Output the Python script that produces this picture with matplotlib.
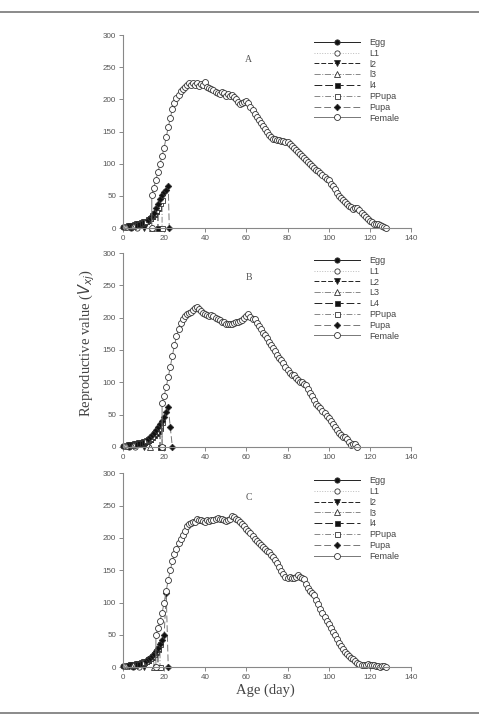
import numpy as np
import matplotlib.pyplot as plt
from matplotlib.lines import Line2D

# ---------------- data ----------------
# panel A
egg_a_x = [0, 1, 2, 3, 4, 4]
egg_a_y = [1.8, 2.0, 2.3, 2.7, 3.1, 0]
l1_a_x = [1, 2, 3, 4, 5, 6, 7, 7]
l1_a_y = [2.0, 2.4, 2.8, 3.3, 3.9, 4.6, 5.4, 0]
l2_a_x = [3, 4, 5, 6, 7, 8, 9, 10, 10]
l2_a_y = [2.9, 3.4, 4.0, 4.8, 5.7, 6.8, 8.1, 9.6, 0]
l3_a_x = [5, 6, 7, 8, 9, 10, 11, 12, 13, 14, 14]
l3_a_y = [3.8, 4.5, 5.4, 6.5, 7.8, 9.3, 11.1, 13.3, 15.8, 18.8, 0]
l4_a_x = [7, 8, 9, 10, 11, 12, 13, 14, 15, 16, 17, 17]
l4_a_y = [5.2, 6.2, 7.4, 8.9, 10.6, 12.7, 15.2, 18.1, 21.6, 25.8, 30.8, 0]
pp_a_x = [11, 12, 13, 14, 15, 16, 17, 18, 19, 19]
pp_a_y = [11.5, 13.7, 16.4, 19.6, 23.4, 27.9, 33.3, 38.5, 43, 0]
pupa_a_x = [12, 13, 14, 15, 16, 17, 18, 19, 20, 21, 22, 22.5]
pupa_a_y = [13, 15.5, 19, 24, 31, 38, 45, 51, 56, 59, 66, 0]
fem_a_x = [14] + list(range(14, 129))
fem_a_y = [0, 52, 63, 75, 87, 100, 112, 125, 141, 157, 171, 185, 195, 202, 207, 213,
           216, 219, 223, 225, 223, 226, 222, 225, 221, 224, 222, 227, 220, 218, 216,
           214, 212, 210, 208, 212, 210, 206, 208, 205, 207, 204, 200, 196, 193, 195,
           196, 197, 195, 188, 183, 178, 173, 168, 163, 158, 154, 149, 145, 142, 139,
           138, 137, 137, 136, 135, 134, 133, 130, 127, 124, 121, 118, 115, 112, 109,
           106, 103, 100, 97, 94, 91, 88, 85, 82, 80, 77, 74, 69, 65, 60, 55, 50, 46,
           43, 40, 37, 34, 32, 30, 31, 31, 28, 24, 20, 17, 14, 11, 9, 7, 6, 6, 5, 3,
           1, 0]

# panel B
egg_b_x = [0, 1, 2, 3, 3]
egg_b_y = [1.5, 1.8, 2.1, 2.5, 0]
l1_b_x = [1, 2, 3, 4, 5, 6, 6]
l1_b_y = [1.7, 2.0, 2.4, 2.8, 3.3, 3.9, 0]
l2_b_x = [3, 4, 5, 6, 7, 8, 9, 10, 10]
l2_b_y = [2.3, 2.7, 3.2, 3.8, 4.5, 5.3, 6.3, 7.5, 0]
l3_b_x = [5, 6, 7, 8, 9, 10, 11, 12, 13, 13]
l3_b_y = [3.2, 3.8, 4.5, 5.3, 6.3, 7.5, 8.9, 10.6, 12.6, 0]
l4_b_x = [7, 8, 9, 10, 11, 12, 13, 14, 15, 16, 17, 18, 18]
l4_b_y = [4.5, 5.3, 6.3, 7.5, 8.9, 10.6, 12.6, 15, 17.8, 21, 25, 29.5, 0]
pp_b_x = [11, 12, 13, 14, 15, 16, 17, 18, 19, 19]
pp_b_y = [10, 12, 14.5, 17.5, 21, 25, 29.5, 34, 39, 0]
pupa_b_x = [12, 13, 14, 15, 16, 17, 18, 19, 20, 21, 22, 23, 24]
pupa_b_y = [12.5, 15, 18, 21.5, 25.5, 30, 35, 40, 46, 54, 62, 30, 0]
fem_b_x = [19] + list(range(19, 115))
fem_b_y = [0, 68, 79, 93, 108, 124, 141, 157, 171, 183, 192, 198, 202, 205, 207, 209,
           212, 215, 216, 213, 210, 208, 206, 204, 203, 204, 202, 200, 198, 196, 194,
           193, 191, 190, 190, 191, 192, 193, 194, 195, 197, 199, 202, 206, 201, 198,
           198, 192, 187, 182, 177, 173, 168, 163, 158, 153, 148, 143, 137, 134, 130,
           124, 119, 115, 111, 112, 107, 103, 101, 100, 98, 96, 89, 83, 78, 72, 67, 63,
           60, 56, 52, 48, 44, 40, 35, 31, 26, 22, 18, 16, 15, 12, 7, 3, 5, 4, 0]

# panel C
egg_c_x = [0, 1, 2, 3, 4, 5, 5]
egg_c_y = [1.5, 1.8, 2.1, 2.5, 3.0, 3.5, 0]
l1_c_x = [1, 2, 3, 4, 5, 6, 7, 8, 8]
l1_c_y = [1.7, 2.0, 2.4, 2.8, 3.3, 3.9, 4.6, 5.4, 0]
l2_c_x = [3, 4, 5, 6, 7, 8, 9, 10, 10]
l2_c_y = [2.4, 2.8, 3.3, 3.9, 4.6, 5.5, 6.6, 7.9, 0]
l3_c_x = [5, 6, 7, 8, 9, 10, 11, 12, 13, 14, 15, 15]
l3_c_y = [3.3, 3.9, 4.6, 5.5, 6.6, 7.9, 9.5, 11.4, 13.7, 16.4, 19.7, 0]
l4_c_x = [7, 8, 9, 10, 11, 12, 13, 14, 15, 16, 17, 17]
l4_c_y = [4.6, 5.5, 6.6, 7.9, 9.5, 11.4, 13.7, 16.4, 19.7, 23.6, 28.3, 0]
pp_c_x = [10, 11, 12, 13, 14, 15, 16, 17, 18, 18]
pp_c_y = [8.5, 10.2, 12.2, 14.6, 17.5, 21, 25, 30, 35, 0]
pupa_c_x = [11, 12, 13, 14, 15, 16, 17, 18, 19, 20, 21, 22]
pupa_c_y = [10, 12, 14.5, 17, 21, 25, 30, 36, 42, 49, 115, 0]
fem_c_x = [16] + list(range(16, 129))
fem_c_y = [0, 50, 60, 72, 84, 100, 118, 135, 150, 164, 175, 183, 192, 199, 205, 211,
           218, 221, 223, 225, 225, 230, 228, 227, 226, 225, 227, 226, 228, 227, 229,
           231, 229, 230, 228, 226, 227, 229, 234, 232, 229, 227, 225, 222, 218, 214,
           211, 207, 203, 199, 195, 192, 189, 186, 183, 180, 178, 174, 170, 166, 161,
           155, 149, 144, 140, 138, 139, 138, 138, 139, 142, 140, 138, 136, 128, 122,
           118, 115, 112, 104, 97, 90, 84, 78, 72, 67, 61, 55, 49, 44, 38, 33, 28, 24,
           20, 17, 14, 12, 9, 7, 5, 4, 3, 3, 5, 4, 4, 3, 2, 1, 0.5, 1, 2, 0]

panels = [
    ("A", ["Egg", "L1", "l2", "l3", "l4", "PPupa", "Pupa", "Female"],
     [(egg_a_x, egg_a_y), (l1_a_x, l1_a_y), (l2_a_x, l2_a_y), (l3_a_x, l3_a_y),
      (l4_a_x, l4_a_y), (pp_a_x, pp_a_y), (pupa_a_x, pupa_a_y), (fem_a_x, fem_a_y)]),
    ("B", ["Egg", "L1", "L2", "L3", "L4", "PPupa", "Pupa", "Female"],
     [(egg_b_x, egg_b_y), (l1_b_x, l1_b_y), (l2_b_x, l2_b_y), (l3_b_x, l3_b_y),
      (l4_b_x, l4_b_y), (pp_b_x, pp_b_y), (pupa_b_x, pupa_b_y), (fem_b_x, fem_b_y)]),
    ("C", ["Egg", "L1", "l2", "l3", "l4", "PPupa", "Pupa", "Female"],
     [(egg_c_x, egg_c_y), (l1_c_x, l1_c_y), (l2_c_x, l2_c_y), (l3_c_x, l3_c_y),
      (l4_c_x, l4_c_y), (pp_c_x, pp_c_y), (pupa_c_x, pupa_c_y), (fem_c_x, fem_c_y)]),
]

# style per stage: (linestyle, line colour, marker, marker face, marker size)
styles = [
    ("-", "#222222", "o", "#111111", 3.8),
    (":", "#bbbbbb", "o", "white", 3.8),
    ((0, (5, 2)), "#222222", "v", "#111111", 3.8),
    ("-.", "#888888", "^", "white", 3.8),
    ((0, (8, 3)), "#222222", "s", "#111111", 3.6),
    ((0, (6, 2, 1, 2)), "#888888", "s", "white", 3.6),
    ((0, (7, 3)), "#777777", "D", "#111111", 3.3),
    ("-", "#777777", "o", "white", 4.3),
]

plt.rcParams['font.family'] = ['Liberation Sans', 'DejaVu Sans']
fig = plt.figure(figsize=(4.79, 7.15), dpi=100)

boxes = [[0.2568, 0.681, 0.601, 0.270],
         [0.2568, 0.375, 0.601, 0.271],
         [0.2568, 0.067, 0.601, 0.271]]

for box, (letter, labels, series) in zip(boxes, panels):
    ax = fig.add_axes(box)
    for (x, y), lab, (ls, lc, mk, mf, ms) in zip(series, labels, styles):
        ax.plot(x, y, linestyle=ls, color=lc, lw=0.7, marker=mk, ms=ms,
                mfc=mf, mec="#333333", mew=0.6, label=lab, clip_on=False)
    ax.set_xlim(0, 140)
    ax.set_ylim(0, 300)
    ax.set_xticks(np.arange(0, 141, 20))
    ax.set_yticks(np.arange(0, 301, 50))
    for s in ["top", "right"]:
        ax.spines[s].set_visible(False)
    for s in ["left", "bottom"]:
        ax.spines[s].set_color("#888888")
        ax.spines[s].set_linewidth(0.8)
    ax.tick_params(direction="out", length=3, width=0.7, color="#888888",
                   labelsize=5.8, labelcolor="#555555", pad=2)
    ax.text(61, 262, letter, family="Liberation Serif", fontsize=7,
            color="#555555", ha="center", va="center")
    leg = ax.legend(loc="upper left", bbox_to_anchor=(0.665, 0.985), frameon=False,
                    fontsize=6.5, handlelength=5.0, labelspacing=0.2,
                    handletextpad=1.1, borderaxespad=0.0, borderpad=0.0)
    for t in leg.get_texts():
        t.set_color("#444444")

fig.text(0.182, 0.52, "Reproductive value ($V_{xj}$)", rotation=90,
         family="Liberation Serif", fontsize=10.5, color="#444444",
         ha="center", va="center")
fig.text(0.555, 0.035, "Age (day)", family="Liberation Serif", fontsize=10.5,
         color="#444444", ha="center", va="center")

# outer frame lines
fig.add_artist(Line2D([0, 1], [1 - 12 / 715, 1 - 12 / 715], color="#777777", lw=1.2))
fig.add_artist(Line2D([0, 1], [2 / 715, 2 / 715], color="#777777", lw=1.2))

fig.savefig("out.png", dpi=100)
